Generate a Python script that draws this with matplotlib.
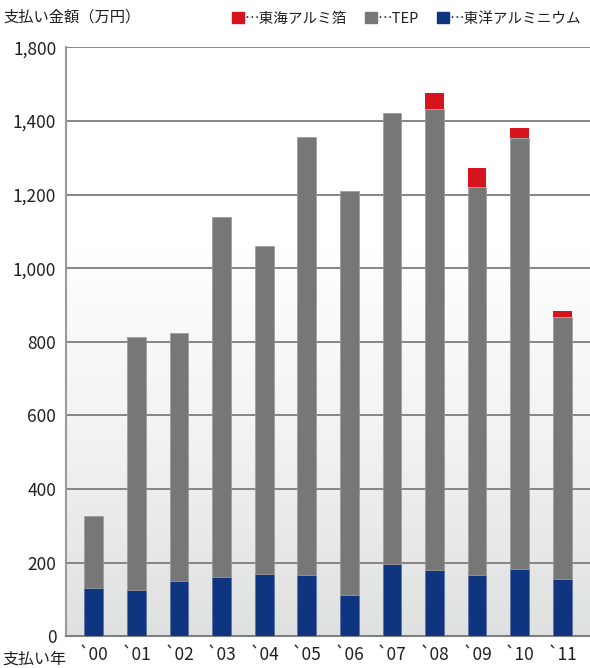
import numpy as np
import matplotlib.pyplot as plt
from matplotlib.colors import LinearSegmentedColormap
from matplotlib.patches import Patch

plt.rcParams['font.family'] = ['Noto Sans CJK JP', 'DejaVu Sans']

# Data (万円)
years = ['`00', '`01', '`02', '`03', '`04', '`05', '`06', '`07', '`08', '`09', '`10', '`11']
toyo = [130, 125, 150, 162, 170, 166, 112, 197, 181, 167, 183, 156]
tep = [197, 687, 675, 976, 891, 1191, 1097, 1224, 1251, 1055, 1172, 712]
tokai = [0, 0, 0, 0, 0, 0, 0, 0, 43, 50, 26, 16]

y_ticks = [0, 200, 400, 600, 800, 1000, 1200, 1400, 1600]
y_labels = ['0', '200', '400', '600', '800', '1,000', '1,200', '1,400', '1,800']

c_blue = '#0f3580'
c_gray = '#777777'
c_red = '#d6141d'
c_text = '#231f20'

fig = plt.figure(figsize=(5.9, 6.68), dpi=100)
ax = fig.add_axes([0.112, 0.0475, 0.888, 0.8815])

x = np.arange(len(years))
w = 0.44

# Background gradient: light gray at the bottom, white toward the top
grad = np.linspace(0, 1, 256).reshape(-1, 1)
bg = LinearSegmentedColormap.from_list('bg', ['#dfe0e0', '#f2f2f2', '#ffffff', '#ffffff'])
ax.imshow(grad, cmap=bg, aspect='auto', origin='lower',
          extent=[-0.65, 11.65, 0, 1600], zorder=0)

ax.bar(x, toyo, w, color=c_blue, zorder=3, edgecolor='#5a6f9a', linewidth=0.5)
ax.bar(x, tep, w, bottom=toyo, color=c_gray, zorder=3, edgecolor='#9a9a9a', linewidth=0.5)
base = [a + b for a, b in zip(toyo, tep)]
ax.bar(x, tokai, w, bottom=base, color=c_red, zorder=3, linewidth=0)

ax.set_xlim(-0.65, 11.65)
ax.set_ylim(0, 1600)
ax.set_yticks(y_ticks)
ax.set_yticklabels(y_labels)
ax.set_xticks(x)
ax.set_xticklabels(years)
ax.yaxis.grid(True, color='#858585', linewidth=1.4, zorder=1)
ax.set_axisbelow(True)
ax.tick_params(axis='both', length=0, labelsize=12.5, colors=c_text)
ax.tick_params(axis='y', pad=7)
ax.tick_params(axis='x', pad=7)

for s in ['top', 'right']:
    ax.spines[s].set_visible(False)
ax.spines['left'].set_color('#9a9a9a')
ax.spines['left'].set_linewidth(1.5)
ax.spines['bottom'].set_color('#808080')
ax.spines['bottom'].set_linewidth(1.5)

fig.text(0.006, 0.975, '支払い金額（万円）', fontsize=11, color=c_text, va='center', ha='left')
fig.text(0.004, 0.013, '支払い年', fontsize=11.5, color=c_text, va='center', ha='left')

handles = [Patch(color=c_red), Patch(color=c_gray), Patch(color=c_blue)]
labels = ['…東海アルミ箔', '…TEP', '…東洋アルミニウム']
fig.legend(handles, labels, loc='center right', bbox_to_anchor=(1.008, 0.972),
           ncol=3, frameon=False, fontsize=10.5, handlelength=0.8, handleheight=0.8,
           handletextpad=0.1, columnspacing=1.2, labelcolor=c_text)

fig.savefig('out.png', dpi=100)
